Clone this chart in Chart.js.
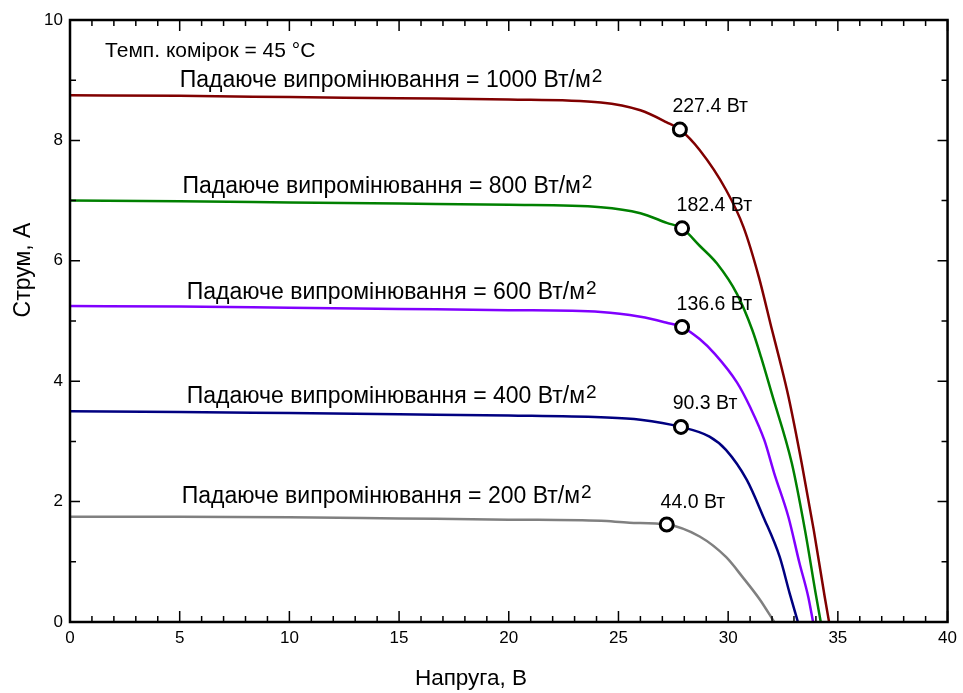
<!DOCTYPE html>
<html>
<head>
<meta charset="utf-8">
<script src="https://cdn.jsdelivr.net/npm/chart.js@4.4.1/dist/chart.umd.min.js"></script>
<style>
    html, body { margin: 0; padding: 0; background: #fff; }
</style>
</head>
<body>
<canvas id="ivChart" width="963" height="693"></canvas>
<script>
// I-V curves (voltage in V, current in A)
const irradiance = [1000, 800, 600, 400, 200];

const volt1000 = [0, 5, 10, 15, 20, 24.2, 26.0, 27.2, 27.8, 28.7, 29.9, 30.7, 31.4, 32.0, 32.35, 32.75, 33.35, 33.9, 34.4, 34.6];
const amp1000  = [8.75, 8.74, 8.72, 8.70, 8.68, 8.63, 8.50, 8.30, 8.18, 7.84, 7.18, 6.56, 5.73, 4.85, 4.35, 3.74, 2.64, 1.53, 0.42, 0];

const volt800 = [0, 5, 10, 15, 20, 24.2, 26.0, 27.2, 27.9, 28.7, 29.5, 30.4, 31.1, 31.5, 32.0, 32.9, 33.5, 34.0, 34.22];
const amp800  = [7.0, 6.99, 6.97, 6.95, 6.93, 6.89, 6.79, 6.63, 6.54, 6.25, 5.95, 5.45, 4.85, 4.4, 3.78, 2.64, 1.53, 0.45, 0];

const volt600 = [0, 5, 10, 15, 20, 24.2, 26.0, 27.2, 27.9, 28.7, 29.4, 30.4, 31.0, 31.65, 32.1, 32.75, 33.25, 33.65, 33.87];
const amp600  = [5.25, 5.24, 5.22, 5.20, 5.18, 5.15, 5.07, 4.97, 4.9, 4.70, 4.45, 3.98, 3.57, 3.02, 2.47, 1.74, 0.98, 0.42, 0];

const volt400 = [0, 5, 10, 15, 20, 24.2, 26.0, 27.85, 29.15, 29.9, 30.85, 31.6, 32.35, 32.8, 33.18];
const amp400  = [3.5, 3.49, 3.47, 3.45, 3.43, 3.40, 3.36, 3.24, 3.08, 2.86, 2.36, 1.75, 1.08, 0.48, 0];

const volt200 = [0, 5, 10, 15, 20, 24.2, 25.5, 27.2, 28.7, 29.9, 30.65, 31.45, 32.1];
const amp200  = [1.75, 1.75, 1.74, 1.72, 1.70, 1.68, 1.65, 1.62, 1.42, 1.08, 0.75, 0.37, 0];

// maximum power points
const mppVolt  = [27.8, 27.9, 27.9, 27.85, 27.2];
const mppAmp   = [8.18, 6.54, 4.9, 3.24, 1.62];
const mppPower = ['227.4', '182.4', '136.6', '90.3', '44.0'];

const xTicks = [0, 5, 10, 15, 20, 25, 30, 35, 40];
const yTicks = [0, 2, 4, 6, 8, 10];

// styling and label placement (data units)
const lineColors = ['#800000', '#008000', '#8000ff', '#000080', '#808080'];
const labelAt = [[5.0, 8.89], [5.13, 7.12], [5.32, 5.36], [5.32, 3.63], [5.09, 1.97]];
const powerAt = [[27.46, 8.47], [27.65, 6.83], [27.65, 5.18], [27.47, 3.54], [26.92, 1.89]];
const tempAt = [1.6, 9.39];

const FONT = '"Liberation Sans", Arial, sans-serif';

const curves = [
    [volt1000, amp1000],
    [volt800, amp800],
    [volt600, amp600],
    [volt400, amp400],
    [volt200, amp200]
];

const datasets = curves.map((c, k) => ({
    label: irradiance[k] + ' Вт/м2',
    data: c[0].map((v, j) => ({ x: v, y: c[1][j] })),
    borderColor: lineColors[k],
    borderWidth: 2.5,
    pointRadius: 0,
    showLine: true,
    cubicInterpolationMode: 'monotone',
    order: 1
}));

datasets.push({
    label: 'MPP',
    data: mppVolt.map((v, j) => ({ x: v, y: mppAmp[j] })),
    showLine: false,
    pointStyle: 'circle',
    pointRadius: 6.5,
    pointBorderWidth: 3,
    pointBorderColor: '#000',
    pointBackgroundColor: '#fff',
    order: 0
});

const frameAndTicks = {
    id: 'frameAndTicks',
    afterDatasetsDraw(chart) {
        const { ctx, chartArea: a, scales: { x, y } } = chart;
        ctx.save();
        ctx.strokeStyle = '#000';
        ctx.lineWidth = 1.5;
        ctx.beginPath();
        for (let v = x.min; v <= x.max; v++) {
            const px = x.getPixelForValue(v);
            const len = v % 5 === 0 ? 11 : 6;
            ctx.moveTo(px, a.bottom); ctx.lineTo(px, a.bottom - len);
            ctx.moveTo(px, a.top); ctx.lineTo(px, a.top + len);
        }
        for (let v = y.min; v <= y.max; v++) {
            const py = y.getPixelForValue(v);
            const len = v % 2 === 0 ? 10 : 6;
            ctx.moveTo(a.left, py); ctx.lineTo(a.left + len, py);
            ctx.moveTo(a.right, py); ctx.lineTo(a.right - len, py);
        }
        ctx.stroke();
        ctx.lineWidth = 2.5;
        ctx.strokeRect(a.left, a.top, a.right - a.left, a.bottom - a.top);
        ctx.restore();
    }
};

const textLabels = {
    id: 'textLabels',
    afterDraw(chart) {
        const { ctx, scales: { x, y } } = chart;
        ctx.save();
        ctx.fillStyle = '#000';
        ctx.textBaseline = 'alphabetic';
        ctx.textAlign = 'left';

        ctx.font = '21px ' + FONT;
        ctx.fillText('Темп. комірок = 45 °C', x.getPixelForValue(tempAt[0]), y.getPixelForValue(tempAt[1]));

        irradiance.forEach((g, k) => {
            const px = x.getPixelForValue(labelAt[k][0]);
            const py = y.getPixelForValue(labelAt[k][1]);
            const main = 'Падаюче випромінювання = ' + g + ' Вт/м';
            ctx.font = '23px ' + FONT;
            ctx.fillText(main, px, py);
            const w = ctx.measureText(main).width;
            ctx.font = '19px ' + FONT;
            ctx.fillText('2', px + w + 1, py - 5);
        });

        ctx.font = '19.5px ' + FONT;
        mppPower.forEach((p, k) => {
            ctx.fillText(p + ' Вт', x.getPixelForValue(powerAt[k][0]), y.getPixelForValue(powerAt[k][1]));
        });

        // axis titles
        ctx.textAlign = 'center';
        ctx.font = '22.5px ' + FONT;
        ctx.fillText('Напруга, В', 471, 685);
        ctx.font = '23px ' + FONT;
        ctx.translate(30, 270);
        ctx.rotate(-Math.PI / 2);
        ctx.fillText('Струм, А', 0, 0);
        ctx.restore();
    }
};

const ctx = document.getElementById('ivChart').getContext('2d');
new Chart(ctx, {
    type: 'scatter',
    data: { datasets: datasets },
    options: {
        responsive: false,
        devicePixelRatio: 1,
        animation: false,
        layout: { padding: { top: 20, right: 15, left: 0, bottom: 0 } },
        plugins: {
            legend: { display: false },
            tooltip: { enabled: false }
        },
        scales: {
            x: {
                type: 'linear',
                min: 0,
                max: 40,
                afterBuildTicks: s => { s.ticks = xTicks.map(v => ({ value: v })); },
                afterFit: s => { s.height = 71; },
                grid: { display: false, drawTicks: false },
                border: { display: false },
                ticks: { color: '#000', padding: 6, maxRotation: 0, font: { family: FONT, size: 17 } }
            },
            y: {
                type: 'linear',
                min: 0,
                max: 10,
                afterBuildTicks: s => { s.ticks = yTicks.map(v => ({ value: v })); },
                afterFit: s => { s.width = 70; },
                grid: { display: false, drawTicks: false },
                border: { display: false },
                ticks: { color: '#000', padding: 7, font: { family: FONT, size: 17 } }
            }
        }
    },
    plugins: [frameAndTicks, textLabels]
});
</script>
</body>
</html>
